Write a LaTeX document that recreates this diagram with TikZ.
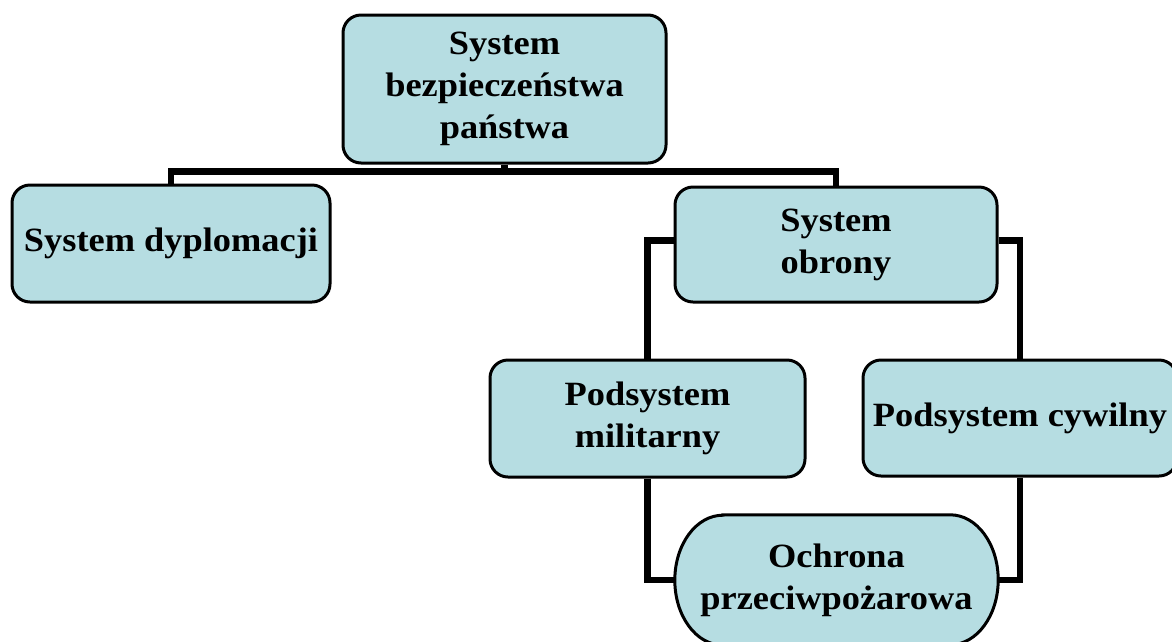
\documentclass[tikz,border=0pt]{standalone}
\usepackage{fontspec}
\setmainfont{Liberation Serif}[FakeStretch=1.07]
\usetikzlibrary{backgrounds}
\definecolor{boxfill}{RGB}{182,221,226}
\begin{document}
\begin{tikzpicture}[x=1pt,y=-1pt,
  label text/.style={align=center, inner sep=0pt,
    font=\fontsize{34}{42}\selectfont\bfseries},
  box/.style={label text, draw=black, line width=3pt, fill=boxfill,
    rounded corners=18pt},
  conn/.style={draw=black, line width=6.5pt, line join=miter},
  pill/.style={draw=black, line width=3pt, fill=boxfill}
]
\useasboundingbox (0,0) rectangle (1172,641);

% boxes
\node[box, minimum width=323pt, minimum height=148pt] (top) at (504.5,89)
  {System\\bezpieczeństwa\\państwa};
\node[box, minimum width=318pt, minimum height=117pt] (dyp) at (171,243.5)
  {System dyplomacji};
\node[box, minimum width=322pt, minimum height=115pt] (obr) at (836,244.5)
  {System\\obrony};
\node[box, minimum width=315pt, minimum height=117pt] (mil) at (647.5,418.5)
  {Podsystem\\militarny};
\node[box, minimum width=314pt, minimum height=116pt] (cyw) at (1020,418)
  {Podsystem cywilny};
\node[label text, minimum width=323pt, minimum height=130pt] (och) at (836.5,580)
  {Ochrona\\przeciwpożarowa};

\coordinate (bus) at (0,171.5);

\begin{scope}[on background layer]
  \fill[white] (0,0) rectangle (1172,641);
  % tree connectors
  \draw[conn] (top.south) -- (top.south |- bus);
  \draw[conn] (dyp.north) |- (obr.north |- bus) -- (obr.north);
  \draw[conn] ([yshift=4pt]obr.west) -| (mil.north);
  \draw[conn] ([yshift=4pt]obr.east) -| (cyw.north);
  \draw[conn] (mil.south) |- (och.west);
  \draw[conn] (cyw.south) |- (och.east);
  % box with elliptic ends
  \draw[pill] ([xshift=48pt]och.north west) -- ([xshift=-48pt]och.north east)
    arc[start angle=90, end angle=-90, x radius=48pt, y radius=65pt]
    -- ([xshift=48pt]och.south west)
    arc[start angle=270, end angle=90, x radius=48pt, y radius=65pt] -- cycle;
\end{scope}
\end{tikzpicture}
\end{document}
